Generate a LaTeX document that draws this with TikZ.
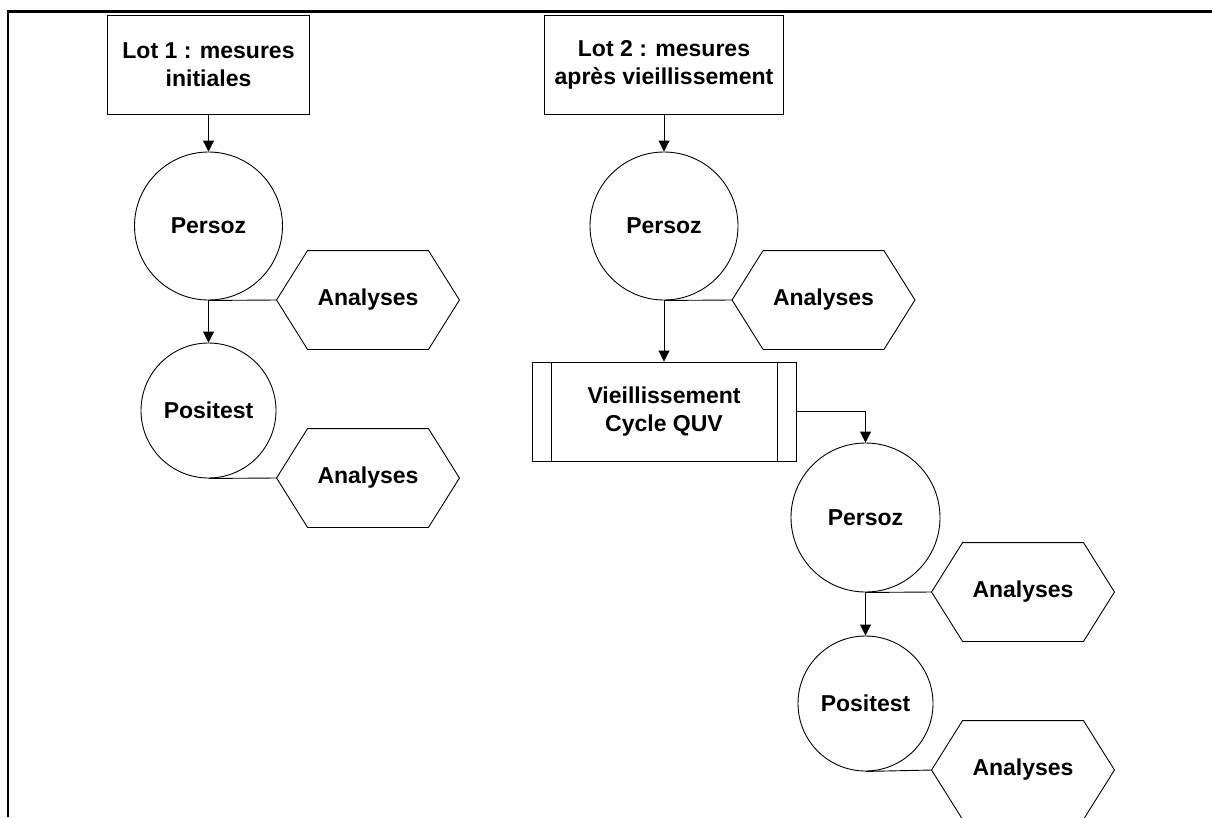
\documentclass[tikz,border=0pt]{standalone}
\usepackage{fontspec}
\setmainfont{Liberation Sans}
\usetikzlibrary{arrows.meta}
\tikzset{
  base/.style={line width=0.9pt, font=\fontsize{23}{28}\selectfont\bfseries, align=center, inner sep=0pt},
  lotbox/.style={base, draw, minimum height=99pt},
  circ/.style={base, draw, circle},
  hexa/.style={base, minimum width=182pt, minimum height=98pt},
  procbox/.style={base, draw, minimum width=264pt, minimum height=99pt},
  conn/.style={line width=0.9pt},
  arr/.style={conn, -{Triangle[length=11pt,width=11pt]}},
  frame/.style={line width=2.5pt}
}
\newcommand\hexdraw[1]{\draw[conn] (#1.west) -- ([xshift=31pt]#1.north west) -- ([xshift=-31pt]#1.north east) -- (#1.east) -- ([xshift=-31pt]#1.south east) -- ([xshift=31pt]#1.south west) -- cycle;}
\begin{document}
\begin{tikzpicture}[x=1pt,y=-1pt]
\useasboundingbox (0,0) rectangle (1212,817);
\coordinate (fl) at (8,817);
\coordinate (ftl) at (8,11.3);
\coordinate (ftr) at (1212,11.3);
\draw[frame] (fl) -- (ftl) -- (ftr);

% column 1
\node[lotbox, minimum width=202pt] (lot1) at (208.5,64.5) {Lot 1 : mesures\\initiales};
\node[circ, minimum size=148pt] (p1) at (208.5,226) {Persoz};
\node[circ, minimum size=135pt] (q1) at (208.5,410.5) {Positest};
\node[hexa] (h1) at (368,300) {Analyses};
\node[hexa] (h2) at (368,478) {Analyses};
\hexdraw{h1}
\hexdraw{h2}
\draw[arr] (lot1.south) -- (p1.north);
\draw[arr] (p1.south) -- (q1.north);
\draw[conn] (p1.south) -- (h1.west);
\draw[conn] (q1.south) -- (h2.west);

% column 2
\node[lotbox, minimum width=239pt] (lot2) at (664,64.5) {Lot 2 : mesures\\apr\`es vieillissement};
\node[circ, minimum size=148pt] (p2) at (664,226) {Persoz};
\node[hexa] (h3) at (823.5,300) {Analyses};
\hexdraw{h3}
\node[procbox] (v) at (664,411.5) {Vieillissement\\Cycle QUV};
\draw[conn] ([xshift=20pt]v.north west) -- ([xshift=20pt]v.south west);
\draw[conn] ([xshift=-19pt]v.north east) -- ([xshift=-19pt]v.south east);
\draw[arr] (lot2.south) -- (p2.north);
\draw[conn] (p2.south) -- (h3.west);
\draw[arr] (p2.south) -- (v.north);

% column 3
\node[circ, minimum size=149pt] (p3) at (865.5,517.5) {Persoz};
\node[circ, minimum size=135pt] (q2) at (865.5,703.5) {Positest};
\node[hexa] (h4) at (1023,592) {Analyses};
\node[hexa] (h5) at (1023,770) {Analyses};
\hexdraw{h4}
\hexdraw{h5}
\draw[arr] (v.east) -| (p3.north);
\draw[arr] (p3.south) -- (q2.north);
\draw[conn] (p3.south) -- (h4.west);
\draw[conn] (q2.south) -- (h5.west);
\end{tikzpicture}
\end{document}
